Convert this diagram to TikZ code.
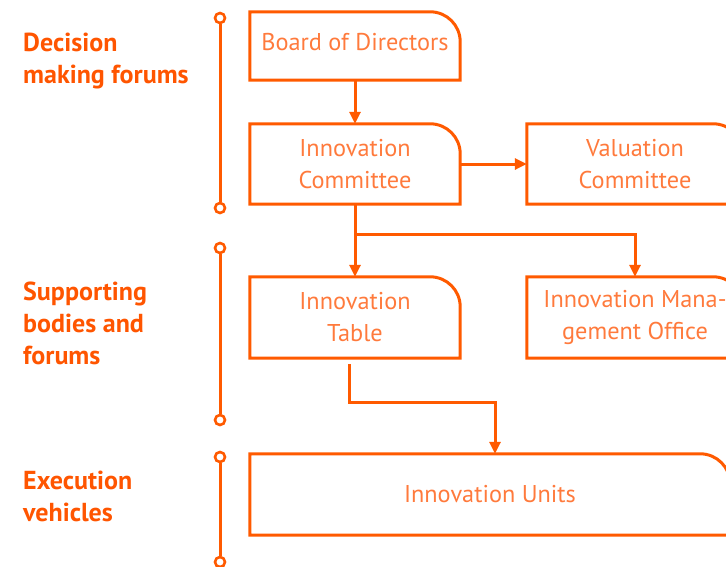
\documentclass[tikz,border=0pt]{standalone}
\usepackage{fontspec}
\setmainfont{PT Sans}
\usetikzlibrary{arrows.meta}
\definecolor{ln}{HTML}{FF5A00}
\definecolor{tx}{HTML}{FF7A3C}
\definecolor{lb}{HTML}{FF5500}
\tikzset{
  box/.style={draw=none,inner sep=0pt,align=center,text=tx,
    font=\fontsize{24.3}{32}\selectfont},
  lab/.style={anchor=base west,align=left,inner sep=0pt,text=lb,
    font=\bfseries\fontsize{26}{32}\selectfont},
  conn/.style={draw=ln,line width=3pt},
  arr/.style={conn,-{Triangle[length=12pt,width=11pt]}},
  dot/.style={circle,draw=ln,line width=2.6pt,fill=white,minimum size=10pt,inner sep=0pt},
}
\newcommand{\cornerbox}[1]{%
  \draw[conn] (#1.south west) -- (#1.north west) -- ([xshift=-30pt]#1.north east)
    arc[start angle=90,end angle=0,radius=30pt] -- (#1.south east) -- cycle;}
\begin{document}
\begin{tikzpicture}[x=1pt,y=-1pt]
\clip (0,0) rectangle (726,566);
% boxes
\node[box,minimum width=210pt,minimum height=68pt,text depth=8pt] (bod) at (355,46) {Board of Directors};
\node[box,minimum width=210pt,minimum height=80pt] (ic) at (355,164) {Innovation\\Committee};
\node[box,minimum width=216pt,minimum height=80pt] (vc) at (635,164) {Valuation\\Committee};
\node[box,minimum width=210pt,minimum height=81pt] (it) at (355,317.5) {Innovation\\Table};
\node[box,minimum width=216pt,minimum height=81pt] (imo) at (635,317.5) {Innovation Mana-\\gement Office};
\node[box,minimum width=480pt,minimum height=81pt] (iu) at (490,494.5) {Innovation Units};
\foreach \n in {bod,ic,vc,it,imo,iu}{\cornerbox{\n}}
% connectors
\coordinate (br) at (355,234);
\coordinate (ts) at (349,364);
\coordinate (tm) at (495,402);
\draw[arr] (bod) -- (ic);
\draw[arr] (ic) -- (vc);
\draw[arr] (ic) -- (it);
\draw[arr] (br) -| (imo.north);
\draw[arr] (ts) |- (tm) -- (tm |- iu.north);
% timelines
\node[dot] (a1) at (220,18) {};
\node[dot] (a2) at (220,208) {};
\node[dot] (b1) at (220,248) {};
\node[dot] (b2) at (220,420) {};
\node[dot] (c1) at (220,457) {};
\node[dot] (c2) at (220,562) {};
\draw[conn] (a1) -- (a2);
\draw[conn] (b1) -- (b2);
\draw[conn] (c1) -- (c2);
% labels
\node[lab] (l1) at (23,83) {Decision\\making forums};
\node[lab] (l2) at (23,364) {Supporting\\bodies and\\forums};
\node[lab] (l3) at (23,521) {Execution\\vehicles};
\end{tikzpicture}
\end{document}
